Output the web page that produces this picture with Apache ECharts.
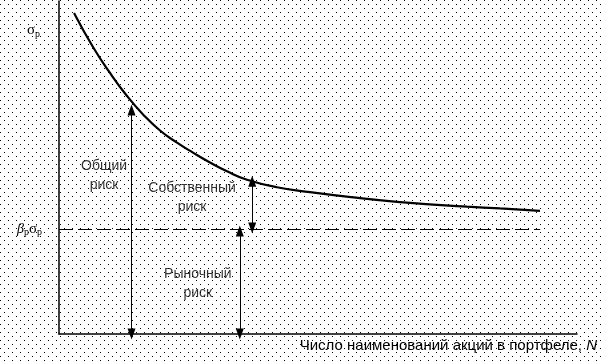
<!DOCTYPE html>
<html>
<head>
<meta charset="utf-8">
<script src="https://cdn.jsdelivr.net/npm/echarts@6/dist/echarts.min.js"></script>
<style>
html,body{margin:0;padding:0;background:#fff;}
#chart{width:602px;height:361px;background-color:#fff;}
</style>
</head>
<body>
<div id="chart"></div>
<script>
// Total risk curve (N, sigma_p) in arbitrary units
const curveN     = [2.90, 6.56, 9.85, 13.13, 16.22, 19.50, 22.78, 25.87, 29.15, 32.43, 36.29, 42.08, 48.46, 58.11, 65.83, 72.20, 78.76, 85.14, 92.86];
const curveSigma = [96.40, 86.19, 78.38, 71.47, 65.95, 61.11, 57.45, 54.47, 51.50, 48.86, 46.34, 44.08, 42.58, 40.78, 39.58, 38.83, 38.23, 37.72, 37.00];
// Market (systematic) risk level beta_p*sigma_p
const marketLevel = 31.5;
const marketLineEnd = 92.9;
// Arrows: x position, from, to
const arrowNames = ['Общий риск', 'Собственный риск', 'Рыночный риск'];
const arrowX     = [14.0, 37.3, 34.9];
const arrowFrom  = [0, 31.8, 0];
const arrowTo    = [67.3, 45.9, 30.9];
// Annotation labels
const labelTexts = ['Общий\nриск', 'Собственный\nриск', 'Рыночный\nриск'];
const labelX     = [8.7, 25.7, 26.8];
const labelY     = [47.6, 40.8, 15.0];
const xAxisTitle = 'Число наименований акций в портфеле, ';
const xAxisVar = 'N';

// dotted background texture
const pat = document.createElement('canvas');
pat.width = 8; pat.height = 8;
const pc = pat.getContext('2d');
pc.fillStyle = '#fff';
pc.fillRect(0, 0, 8, 8);
pc.fillStyle = '#000';
pc.fillRect(4, 0, 1, 1);
pc.fillRect(0, 4, 1, 1);
const host = document.getElementById('chart');
host.style.backgroundImage = 'url(' + pat.toDataURL() + ')';
host.style.backgroundRepeat = 'repeat';

const chart = echarts.init(host, null, {renderer: 'canvas'});
const font = 'Liberation Sans';
const txt = {fontFamily: font, fontSize: 15, color: '#000'};

const option = {
  animation: false,
  backgroundColor: 'transparent',
  grid: {left: 59, right: 25, top: 1, bottom: 27},
  xAxis: {
    type: 'value', min: 0, max: 100,
    axisLine: {lineStyle: {color: '#000', width: 1.5}},
    axisTick: {show: false}, axisLabel: {show: false}, splitLine: {show: false},
    name: '{a|' + xAxisTitle + '}{n|' + xAxisVar + '}',
    nameLocation: 'end', nameGap: 20,
    nameTextStyle: {
      align: 'right', verticalAlign: 'top', padding: [4, 0, 0, 0],
      rich: {
        a: Object.assign({}, txt),
        n: Object.assign({}, txt, {fontStyle: 'italic'})
      }
    }
  },
  yAxis: {
    type: 'value', min: 0, max: 100,
    axisLine: {lineStyle: {color: '#000', width: 1.5}},
    axisTick: {show: false}, axisLabel: {show: false}, splitLine: {show: false},
    name: '{s|σ}{p|p}',
    nameLocation: 'end', nameGap: -38,
    nameTextStyle: {
      align: 'right', padding: [0, 19, 0, 0],
      rich: {
        s: {fontFamily: 'Liberation Serif', fontSize: 15, color: '#000'},
        p: {fontFamily: 'Liberation Serif', fontSize: 10, color: '#000', padding: [7, 0, 0, 0]}
      }
    }
  },
  series: [
    {
      type: 'line', name: 'curve',
      data: curveN.map((n, i) => [n, curveSigma[i]]),
      smooth: 0.5, showSymbol: false, symbol: 'none',
      lineStyle: {color: '#000', width: 2.2},
      markLine: {
        silent: true, symbol: 'none',
        lineStyle: {color: '#000', width: 1, type: [14, 5]},
        label: {
          show: true, position: 'start', distance: 17,
          formatter: '{b|β}{p|p}{s|σ}{p|p}',
          rich: {
            b: {fontFamily: 'Liberation Serif', fontSize: 14, fontStyle: 'italic', color: '#000'},
            s: {fontFamily: 'Liberation Serif', fontSize: 15, color: '#000'},
            p: {fontFamily: 'Liberation Serif', fontSize: 10, color: '#000', padding: [7, 0, 0, 0]}
          }
        },
        data: [[{coord: [0, marketLevel]}, {coord: [marketLineEnd, marketLevel]}]]
      }
    },
    {
      type: 'line', name: 'arrows', data: [], symbol: 'none',
      markLine: {
        silent: true,
        symbol: ['triangle', 'triangle'], symbolSize: [8, 11],
        lineStyle: {color: '#000', width: 1, type: 'solid'},
        itemStyle: {color: '#000'},
        label: {show: false},
        data: arrowNames.map((nm, i) => [
          {name: nm, coord: [arrowX[i], arrowFrom[i]]},
          {coord: [arrowX[i], arrowTo[i]]}
        ])
      }
    },
    {
      type: 'scatter', symbol: 'circle', symbolSize: 1, silent: true,
      itemStyle: {color: 'rgba(0,0,0,0)'},
      data: labelTexts.map((t, i) => ({name: t, value: [labelX[i], labelY[i]]})),
      label: {
        show: true, position: 'inside', formatter: '{b}',
        fontFamily: font, fontSize: 14, color: '#000', lineHeight: 19, align: 'center', verticalAlign: 'middle'
      }
    }
  ]
};
chart.setOption(option);
</script>
</body>
</html>
